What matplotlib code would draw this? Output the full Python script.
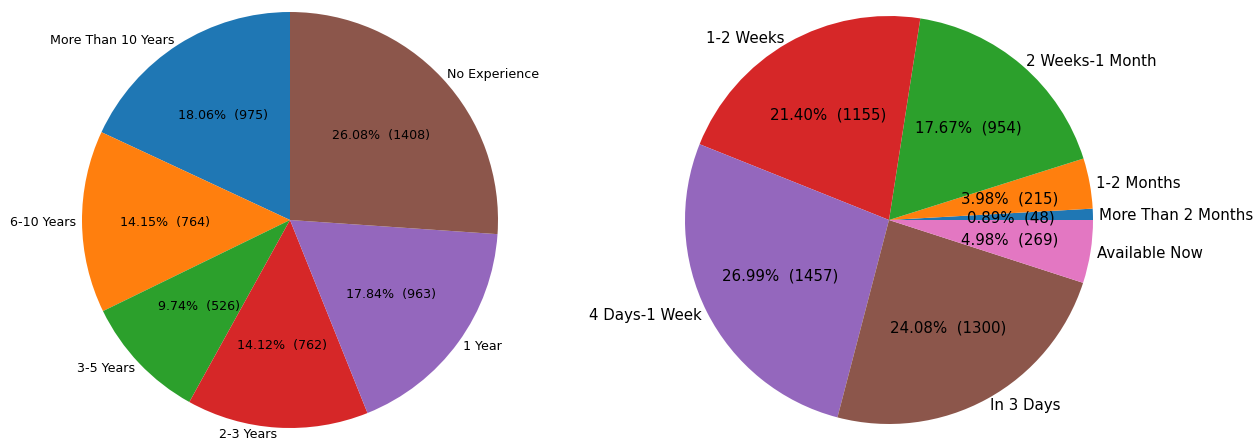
import matplotlib.pyplot as plt

exp_labels = ["More Than 10 Years", "6-10 Years", "3-5 Years", "2-3 Years",
              "1 Year", "No Experience"]
exp_counts = [975, 764, 526, 762, 963, 1408]

avail_labels = ["More Than 2 Months", "1-2 Months", "2 Weeks-1 Month", "1-2 Weeks",
                "4 Days-1 Week", "In 3 Days", "Available Now"]
avail_counts = [48, 215, 954, 1155, 1457, 1300, 269]

colors = ["#1f77b4", "#ff7f0e", "#2ca02c", "#d62728", "#9467bd", "#8c564b", "#e377c2"]


def fmt(total):
    def inner(pct):
        return "%.2f%%  (%d)" % (pct, round(pct * total / 100.0))
    return inner


W, H = 1255, 439
fig = plt.figure(figsize=(W / 100, H / 100), dpi=100)


def make_ax(cx, cy, r):
    ax = fig.add_axes([(cx - r) / W, (H - cy - r) / H, 2 * r / W, 2 * r / H])
    return ax


ax1 = make_ax(290, 221, 208)
ax1.pie(exp_counts, labels=exp_labels, colors=colors[:6], startangle=90,
        labeldistance=1.03, autopct=fmt(sum(exp_counts)),
        textprops={"fontsize": 9.1})
ax1.set_xlim(-1, 1)
ax1.set_ylim(-1, 1)
ax1.set_aspect("equal")

ax2 = make_ax(889, 221, 204)
ax2.pie(avail_counts, labels=avail_labels, colors=colors,
        labeldistance=1.03, autopct=fmt(sum(avail_counts)),
        textprops={"fontsize": 10.8})
ax2.set_xlim(-1, 1)
ax2.set_ylim(-1, 1)
ax2.set_aspect("equal")

fig.savefig("out.png", dpi=100)
